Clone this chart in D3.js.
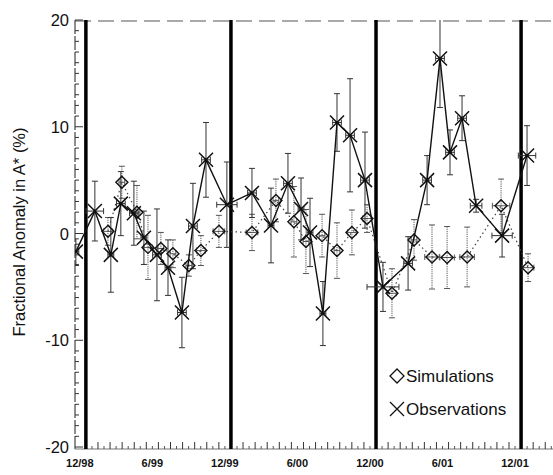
<!DOCTYPE html>
<html>
<head>
<meta charset="utf-8">
<script src="https://cdnjs.cloudflare.com/ajax/libs/d3/7.8.5/d3.min.js"></script>
<style>
  body { margin: 0; background: #fff; }
  text { font-family: "Liberation Sans", Arial, sans-serif; fill: #111; }
</style>
</head>
<body>
<svg id="chart" width="553" height="475"></svg>
<script>
// observations (decimal year, anomaly %, vertical error, time error in years)
var obsTime = [1998.931, 1999.062, 1999.172, 1999.241, 1999.331, 1999.400, 1999.490, 1999.566, 1999.662, 1999.738,
               1999.828, 1999.972, 2000.145, 2000.276, 2000.393, 2000.483, 2000.545, 2000.634, 2000.731, 2000.821,
               2000.924, 2001.048, 2001.221, 2001.352, 2001.441, 2001.510, 2001.593, 2001.690, 2001.869, 2002.041];
var obsVal  = [-1.7, 2.1, -2.0, 2.8, 1.9, -0.4, -2.0, -3.2, -7.4, 0.7,
               6.9, 2.7, 3.8, 0.75, 4.7, 2.3, 0.1, -7.5, 10.4, 9.2,
               5.0, -5.0, -2.8, 5.0, 16.4, 7.6, 10.8, 2.6, -0.2, 7.3];
var obsErr  = [1.2, 2.8, 3.5, 3.0, 3.0, 2.5, 4.3, 2.6, 3.3, 4.0,
               3.5, 4.0, 2.3, 3.5, 2.8, 2.9, 3.2, 3.0, 2.7, 5.3,
               4.5, 2.3, 2.5, 2.3, 4.6, 2.1, 2.1, 0.6, 2.0, 2.8];
var obsTerr = [0.02, 0.06, 0.02, 0.03, 0.03, 0.02, 0.03, 0.02, 0.03, 0.03,
               0.03, 0.07, 0.03, 0.02, 0.03, 0.02, 0.02, 0.02, 0.03, 0.03,
               0.03, 0.11, 0.03, 0.03, 0.03, 0.03, 0.03, 0.04, 0.07, 0.06];

// simulations
var simTime = [1999.152, 1999.248, 1999.352, 1999.428, 1999.517, 1999.600, 1999.710, 1999.793, 1999.917,
               2000.145, 2000.310, 2000.434, 2000.517, 2000.628, 2000.731, 2000.834, 2000.938,
               2001.110, 2001.262, 2001.386, 2001.490, 2001.628, 2001.862, 2002.048];
var simVal  = [0.2, 4.8, 2.0, -1.3, -1.4, -1.9, -3.0, -1.6, 0.2,
               0.1, 3.1, 1.1, -0.75, -0.2, -1.6, 0.1, 1.4,
               -5.6, -0.6, -2.2, -2.25, -2.2, 2.6, -3.2];
var simErr  = [1.3, 1.5, 2.5, 3.0, 1.5, 1.3, 1.0, 1.4, 1.5,
               1.7, 2.0, 3.3, 3.0, 2.0, 2.6, 2.1, 1.3,
               2.3, 1.9, 3.0, 2.9, 2.8, 2.5, 1.3];
var simTerr = [0.03, 0.02, 0.02, 0.03, 0.02, 0.02, 0.02, 0.03, 0.04,
               0.04, 0.02, 0.02, 0.02, 0.02, 0.02, 0.03, 0.03,
               0.03, 0.02, 0.05, 0.05, 0.05, 0.06, 0.04];

var yearLines = [1999, 2000, 2001, 2002];
var xTickTimes = [1998.958, 1999.458, 1999.958, 2000.458, 2000.958, 2001.458, 2001.958];
var xTickLabels = ["12/98", "6/99", "12/99", "6/00", "12/00", "6/01", "12/01"];
var yTicks = [-20, -10, 0, 10, 20];

var pL = 75, pR = 553, pT = 20, pB = 447;

var x = d3.scaleLinear().domain([1998.925, 2002.22]).range([pL, pR]);
var y = d3.scaleLinear().domain([-20, 20]).range([pB, pT]);

var svg = d3.select("#chart");

svg.append("clipPath").attr("id", "plot")
  .append("rect").attr("x", pL).attr("y", pT).attr("width", pR - pL).attr("height", pB - pT + 2);

// frame: dashed top, left axis, bottom axis
svg.append("line").attr("x1", pL).attr("x2", pR).attr("y1", pT + 1).attr("y2", pT + 1)
  .attr("stroke", "#555").attr("stroke-width", 1.2).attr("stroke-dasharray", "16,7");
svg.append("line").attr("x1", pL).attr("x2", pL).attr("y1", pT).attr("y2", pB + 2)
  .attr("stroke", "#444").attr("stroke-width", 1.2).attr("stroke-dasharray", "14,2");
svg.append("line").attr("x1", pL).attr("x2", pR).attr("y1", pB + 2).attr("y2", pB + 2)
  .attr("stroke", "#777").attr("stroke-width", 1.2);

// y ticks, every unit, long at tens
var yMinor = d3.range(-20, 21, 1);
svg.append("g").selectAll("line").data(yMinor).join("line")
  .attr("x1", pL).attr("x2", function(d) { return pL + (d % 10 == 0 ? 8 : 4); })
  .attr("y1", function(d) { return y(d); }).attr("y2", function(d) { return y(d); })
  .attr("stroke", "#333").attr("stroke-width", 1);

svg.append("g").selectAll("text").data(yTicks).join("text")
  .attr("x", 69).attr("y", function(d) { return y(d) + 6; })
  .attr("text-anchor", "end").attr("font-size", 16.5)
  .text(function(d) { return d; });

// x ticks: month starts and half months
var months = d3.range(0, 41).map(function(i) { return 1998 + 11 / 12 + i / 12; })
  .filter(function(t) { return x(t) > pL + 1 && x(t) < pR; });
svg.append("g").selectAll("line").data(months).join("line")
  .attr("x1", function(d) { return x(d); }).attr("x2", function(d) { return x(d); })
  .attr("y1", pB + 2).attr("y2", pB - 5)
  .attr("stroke", "#333").attr("stroke-width", 1);
svg.append("g").selectAll("line").data(months.map(function(t) { return t + 1 / 24; })).join("line")
  .attr("x1", function(d) { return x(d); }).attr("x2", function(d) { return x(d); })
  .attr("y1", pB + 2).attr("y2", pB - 1)
  .attr("stroke", "#555").attr("stroke-width", 1);

svg.append("g").selectAll("text").data(xTickTimes).join("text")
  .attr("x", function(d) { return x(d); }).attr("y", 467)
  .attr("text-anchor", "middle").attr("font-size", 11).attr("font-weight", "bold")
  .text(function(d, i) { return xTickLabels[i]; });

// y label
svg.append("text")
  .attr("transform", "translate(25,232) rotate(-90)")
  .attr("text-anchor", "middle").attr("font-size", 16.5)
  .text("Fractional Anomaly in A* (%)");

var plot = svg.append("g").attr("clip-path", "url(#plot)");

// year boundaries
plot.selectAll(".yr").data(yearLines).join("line")
  .attr("x1", function(d) { return x(d); }).attr("x2", function(d) { return x(d); })
  .attr("y1", pT).attr("y2", pB + 2)
  .attr("stroke", "#000").attr("stroke-width", 3.5);

function errorBars(g, times, vals, errs, terrs, color, dash) {
  var idx = d3.range(times.length);
  var cap = 3;
  var eb = g.append("g").attr("stroke", color).attr("stroke-width", 1).attr("fill", "none");
  eb.selectAll(".v").data(idx).join("path")
    .attr("stroke-dasharray", dash)
    .attr("d", function(i) {
      var cx = x(times[i]), y1 = y(vals[i] + errs[i]), y2 = y(vals[i] - errs[i]);
      return "M" + cx + "," + y1 + "V" + y2;
    });
  eb.append("g").selectAll("path").data(idx).join("path")
    .attr("d", function(i) {
      var cx = x(times[i]), y1 = y(vals[i] + errs[i]), y2 = y(vals[i] - errs[i]);
      return "M" + (cx - cap) + "," + y1 + "H" + (cx + cap) + "M" + (cx - cap) + "," + y2 + "H" + (cx + cap);
    });
  eb.append("g").selectAll("path").data(idx).join("path")
    .attr("d", function(i) {
      var cy = y(vals[i]), x1 = x(times[i] - terrs[i]), x2 = x(times[i] + terrs[i]);
      return "M" + x1 + "," + cy + "H" + x2 + "M" + x1 + "," + (cy - cap) + "V" + (cy + cap) +
             "M" + x2 + "," + (cy - cap) + "V" + (cy + cap);
    });
}

errorBars(plot, simTime, simVal, simErr, simTerr, "#555", "1.2,1");
errorBars(plot, obsTime, obsVal, obsErr, obsTerr, "#333", null);

var simLine = d3.line().x(function(d, i) { return x(simTime[i]); }).y(function(d) { return y(d); });
plot.append("path").attr("d", simLine(simVal))
  .attr("fill", "none").attr("stroke", "#444").attr("stroke-width", 1.2).attr("stroke-dasharray", "1.5,3");

var obsLine = d3.line().x(function(d, i) { return x(obsTime[i]); }).y(function(d) { return y(d); });
plot.append("path").attr("d", obsLine(obsVal))
  .attr("fill", "none").attr("stroke", "#111").attr("stroke-width", 1.4);

function diamond(cx, cy, r) {
  return "M" + cx + "," + (cy - r) + "L" + (cx + r) + "," + cy + "L" + cx + "," + (cy + r) + "L" + (cx - r) + "," + cy + "Z";
}
function cross(cx, cy, r) {
  return "M" + (cx - r) + "," + (cy - r) + "L" + (cx + r) + "," + (cy + r) +
         "M" + (cx - r) + "," + (cy + r) + "L" + (cx + r) + "," + (cy - r);
}

plot.append("g").selectAll("path").data(simVal).join("path")
  .attr("d", function(d, i) { return diamond(x(simTime[i]), y(d), 6); })
  .attr("fill", "none").attr("stroke", "#111").attr("stroke-width", 1.4);

plot.append("g").selectAll("path").data(obsVal).join("path")
  .attr("d", function(d, i) { return cross(x(obsTime[i]), y(d), 7); })
  .attr("fill", "none").attr("stroke", "#111").attr("stroke-width", 1.5);
plot.append("g").selectAll("circle").data(obsVal).join("circle")
  .attr("cx", function(d, i) { return x(obsTime[i]); }).attr("cy", function(d) { return y(d); })
  .attr("r", 1.6).attr("fill", "#111");

// legend
var legend = svg.append("g");
legend.append("path").attr("d", diamond(397, 376, 7))
  .attr("fill", "none").attr("stroke", "#111").attr("stroke-width", 1.3);
legend.append("text").attr("x", 406).attr("y", 382).attr("font-size", 17).text("Simulations");
legend.append("path").attr("d", cross(397, 409, 7))
  .attr("fill", "none").attr("stroke", "#111").attr("stroke-width", 1.3);
legend.append("text").attr("x", 406).attr("y", 415).attr("font-size", 17).text("Observations");
</script>
</body>
</html>
